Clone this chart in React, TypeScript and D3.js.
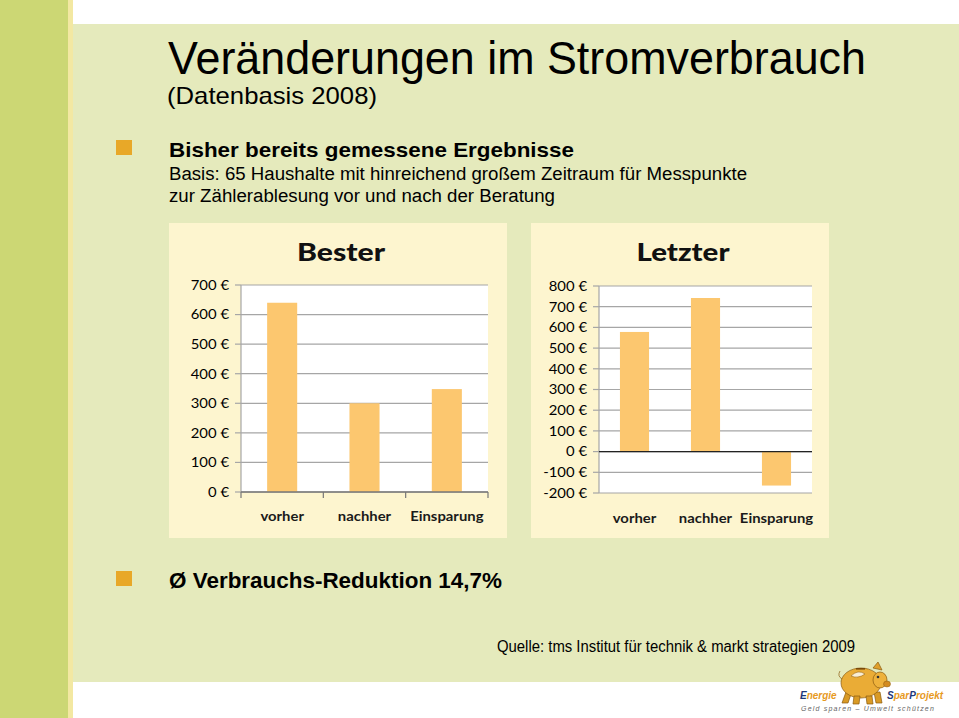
import React from "react";
import * as d3 from "d3";

const categories = ["vorher", "nachher", "Einsparung"];
const besterValues = [640, 300, 348];
const letzterValues = [578, 742, -164];
const besterTicks = [0, 100, 200, 300, 400, 500, 600, 700];
const letzterTicks = [-200, -100, 0, 100, 200, 300, 400, 500, 600, 700, 800];

const W = 959;
const H = 718;
const SX = 1.1;
const BAR = "#fcc76f";
const GRID = "#a6a6a6";
const CHART_FONT = "Lato, 'Open Sans', sans-serif";
const MAIN_FONT = "'Liberation Sans', Arial, sans-serif";

function Stretch({ x, y, anchor = "start", size, weight = "normal", fill = "#111", font = CHART_FONT, children, dy = "0" }: any) {
  return (
    <g transform={`translate(${x},${y}) scale(${SX},1)`}>
      <text textAnchor={anchor} fontSize={size} fontWeight={weight} fill={fill} fontFamily={font} dy={dy}>
        {children}
      </text>
    </g>
  );
}

function FitText({ x, y, w, size, weight = "normal", fill = "#000", font = MAIN_FONT, anchor = "start", children }: any) {
  return (
    <text x={x} y={y} textLength={w} lengthAdjust="spacingAndGlyphs" fontSize={size} fontWeight={weight} fill={fill} fontFamily={font} textAnchor={anchor}>
      {children}
    </text>
  );
}

function BarChart({ box, plot, title, titleW, values, ticks, domain, pad, labelY, zeroLine, bottomTicks }: any) {
  const x = d3.scaleBand<string>().domain(categories).range([plot.x0, plot.x1]).paddingInner(pad).paddingOuter(pad / 2);
  const y = d3.scaleLinear().domain(domain).range([plot.y1, plot.y0]);
  const boundaries = d3.range(categories.length + 1).map((i) => plot.x0 + i * ((plot.x1 - plot.x0) / categories.length));
  return (
    <g>
      <rect x={box.x} y={box.y} width={box.w} height={box.h} fill="#fdf5cf" />
      <FitText x={box.x + box.w / 2 + 3} y={box.y + 38} w={titleW} size={25} weight="900" font={CHART_FONT} anchor="middle" fill="#111">
        {title}
      </FitText>
      <rect x={plot.x0} y={plot.y0} width={plot.x1 - plot.x0} height={plot.y1 - plot.y0} fill="#ffffff" />
      {ticks.map((t: number) => (
        <g key={t}>
          <line x1={plot.x0} x2={plot.x1} y1={y(t)} y2={y(t)} stroke={GRID} strokeWidth={1.2} />
          <line x1={plot.x0 - 6} x2={plot.x0} y1={y(t)} y2={y(t)} stroke={GRID} strokeWidth={1.2} />
          <Stretch x={plot.x0 - 12} y={y(t)} anchor="end" size={13.5} dy="0.36em" fill="#000">
            {`${t} €`}
          </Stretch>
        </g>
      ))}
      <line x1={plot.x0} x2={plot.x0} y1={plot.y0} y2={plot.y1} stroke={GRID} strokeWidth={1.2} />
      {values.map((v: number, i: number) => (
        <rect key={i} x={x(categories[i])} width={x.bandwidth()} y={Math.min(y(v), y(0))} height={Math.abs(y(v) - y(0))} fill={BAR} />
      ))}
      <line x1={plot.x0} x2={plot.x1} y1={y(0)} y2={y(0)} stroke={zeroLine ? "#222" : "#777"} strokeWidth={1.4} />
      {bottomTicks &&
        boundaries.map((b: number, i: number) => (
          <line key={i} x1={b} x2={b} y1={y(0)} y2={y(0) + 6} stroke="#777" strokeWidth={1.2} />
        ))}
      {categories.map((c) => (
        <Stretch key={c} x={(x(c) as number) + x.bandwidth() / 2} y={labelY} anchor="middle" size={13.5} weight="bold" fill="#1a1a1a">
          {c}
        </Stretch>
      ))}
    </g>
  );
}

function Logo() {
  return (
    <g>
      <g stroke="#8a5a10" strokeWidth={0.7}>
        <path d="M846,692 l-4,11 l6,0 l3,-9 Z" fill="#d99a25" />
        <path d="M874,692 l2,11 l6,0 l-2,-11 Z" fill="#d99a25" />
        <ellipse cx={861} cy={683} rx={20} ry={15} fill="#eaac36" />
        <ellipse cx={880} cy={680} rx={7} ry={8} fill="#eeb23c" />
        <path d="M873,668 l5,-6 l4,8 Z" fill="#e0a02c" />
        <path d="M851,676 q7,-7 14,-2 q-7,5 -14,2 Z" fill="#f9eed6" strokeWidth={0.5} />
        <ellipse cx={887} cy={684} rx={3.5} ry={3} fill="#d48c20" strokeWidth={0.5} />
        <circle cx={878} cy={677} r={1.3} fill="#333" stroke="none" />
        <path d="M842,679 q-5,-3 -2,-8" fill="none" />
        <path d="M854,696 l-1,8 l6,0 l1,-8 Z" fill="#d99a25" />
        <path d="M866,696 l1,8 l6,0 l-1,-8 Z" fill="#d99a25" />
        <rect x={856} y={668} width={9} height={1.6} fill="#7a4a0a" stroke="none" />
      </g>
      <text x={800} y={699} fontSize={10} fontWeight="bold" fontStyle="italic" fontFamily={MAIN_FONT}>
        <tspan fill="#1f3a7a">E</tspan>
        <tspan fill="#e79a1f">nergie</tspan>
      </text>
      <text x={887} y={699} fontSize={10} fontWeight="bold" fontStyle="italic" fontFamily={MAIN_FONT}>
        <tspan fill="#1f3a7a">S</tspan>
        <tspan fill="#e79a1f">par</tspan>
        <tspan fill="#1f3a7a">P</tspan>
        <tspan fill="#e79a1f">rojekt</tspan>
      </text>
      <text x={801} y={711} fontSize={7} fontStyle="italic" fill="#666" fontFamily={MAIN_FONT} letterSpacing={1.2}>
        Geld sparen – Umwelt schützen
      </text>
    </g>
  );
}

export default function App() {
  return (
    <svg width={W} height={H} viewBox={`0 0 ${W} ${H}`} style={{ position: "absolute", left: 0, top: 0, display: "block" }}>
      <rect x={0} y={0} width={W} height={H} fill="#ffffff" />
      <rect x={73} y={24} width={W - 73} height={682 - 24} fill="#e5eabc" />
      <rect x={0} y={0} width={68} height={H} fill="#ccd774" />
      <rect x={68} y={0} width={5} height={H} fill="#f3e8a2" />

      <FitText x={168} y={74} w={698} size={46}>
        Veränderungen im Stromverbrauch
      </FitText>
      <FitText x={167} y={104} w={210} size={24}>
        (Datenbasis 2008)
      </FitText>

      <rect x={116} y={140} width={16} height={15} fill="#e8a828" />
      <FitText x={169} y={157} w={405} size={21} weight="bold">
        Bisher bereits gemessene Ergebnisse
      </FitText>
      <FitText x={169} y={180} w={578} size={18}>
        Basis: 65 Haushalte mit hinreichend großem Zeitraum für Messpunkte
      </FitText>
      <FitText x={169} y={202} w={386} size={18}>
        zur Zählerablesung vor und nach der Beratung
      </FitText>

      <BarChart
        box={{ x: 169, y: 223, w: 338, h: 315 }}
        plot={{ x0: 241, x1: 488, y0: 285, y1: 492 }}
        title="Bester"
        titleW={88}
        values={besterValues}
        ticks={besterTicks}
        domain={[0, 700]}
        pad={0.635}
        labelY={521}
        zeroLine={false}
        bottomTicks={true}
      />
      <BarChart
        box={{ x: 531, y: 223, w: 298, h: 315 }}
        plot={{ x0: 599, x1: 812, y0: 286, y1: 493 }}
        title="Letzter"
        titleW={93}
        values={letzterValues}
        ticks={letzterTicks}
        domain={[-200, 800]}
        pad={0.59}
        labelY={523}
        zeroLine={true}
        bottomTicks={false}
      />

      <rect x={116} y={571} width={16} height={15} fill="#e8a828" />
      <FitText x={169} y={588} w={333} size={22} weight="bold">
        Ø Verbrauchs-Reduktion 14,7%
      </FitText>
      <FitText x={497} y={652} w={358} size={16}>
        Quelle: tms Institut für technik &amp; markt strategien 2009
      </FitText>

      <Logo />
    </svg>
  );
}
